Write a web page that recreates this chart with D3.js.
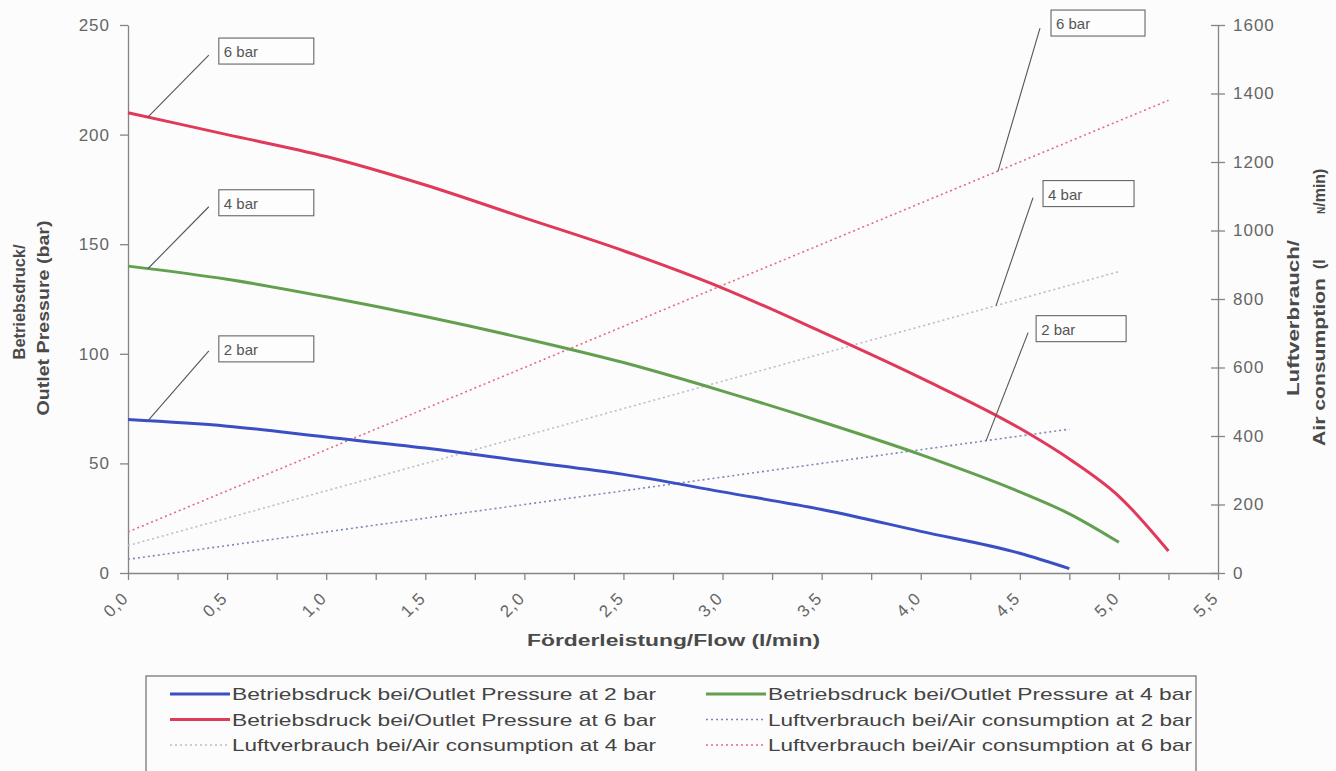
<!DOCTYPE html>
<html>
<head>
<meta charset="utf-8">
<script src="https://cdn.jsdelivr.net/npm/d3@7"></script>
<style>
  body { margin: 0; background: #fcfcfc; }
  svg { font-family: "Liberation Sans", Arial, sans-serif; }
</style>
</head>
<body>
<div id="chart"></div>
<script>
// Förderleistung (l/min) for each curve
var flow2 = [0, 0.5, 1.0, 1.5, 2.0, 2.5, 3.0, 3.5, 4.0, 4.5, 4.75];
var flow4 = [0, 0.5, 1.0, 1.5, 2.0, 2.5, 3.0, 3.5, 4.0, 4.5, 4.75, 5.0];
var flow6 = [0, 0.5, 1.0, 1.5, 2.0, 2.5, 3.0, 3.5, 4.0, 4.5, 4.75, 5.0, 5.25];

// Betriebsdruck / Outlet pressure (bar)
var press2 = [70, 67, 62, 57, 51, 45, 37, 29, 19, 9, 2];
var press4 = [140, 134, 126, 117, 107, 96, 83, 69, 54, 37, 27, 14];
var press6 = [210, 200, 190, 177, 162, 147, 130, 110, 89, 66, 52, 35, 10];

// Luftverbrauch / Air consumption (lN/min)
var air2 = [40, 80, 120, 160, 200, 240, 280, 320, 360, 400, 420];
var air4 = [80, 160, 240, 320, 400, 480, 560, 640, 720, 800, 840, 880];
var air6 = [120, 240, 360, 480, 600, 720, 840, 960, 1080, 1200, 1260, 1320, 1380];

var leftTicks = [0, 50, 100, 150, 200, 250];
var rightTicks = [0, 200, 400, 600, 800, 1000, 1200, 1400, 1600];
var xLabels = [0, 0.5, 1.0, 1.5, 2.0, 2.5, 3.0, 3.5, 4.0, 4.5, 5.0, 5.5];

var legendNames = [
    "Betriebsdruck bei/Outlet Pressure at 2 bar",
    "Betriebsdruck bei/Outlet Pressure at 4 bar",
    "Betriebsdruck bei/Outlet Pressure at 6 bar",
    "Luftverbrauch bei/Air consumption at 2 bar",
    "Luftverbrauch bei/Air consumption at 4 bar",
    "Luftverbrauch bei/Air consumption at 6 bar"
];

var series = [
    {flow: flow2, vals: press2, axis: "L", color: "#3a4fc4", dash: null, width: 3},
    {flow: flow4, vals: press4, axis: "L", color: "#62a04f", dash: null, width: 3},
    {flow: flow6, vals: press6, axis: "L", color: "#e0395a", dash: null, width: 3},
    {flow: flow2, vals: air2, axis: "R", color: "#7d88b4", dash: "2,3", width: 1.6},
    {flow: flow4, vals: air4, axis: "R", color: "#b9bccb", dash: "2,3", width: 1.6},
    {flow: flow6, vals: air6, axis: "R", color: "#e46a86", dash: "2,3", width: 1.6}
];

var width = 1336, height = 771;
var svg = d3.select("#chart").append("svg")
            .attr("width", width)
            .attr("height", height);

var x = d3.scaleLinear().domain([0, 5.5]).range([128, 1218]);
var yL = d3.scaleLinear().domain([0, 250]).range([573, 25]);
var yR = d3.scaleLinear().domain([0, 1600]).range([573, 25]);

var axisColor = "#858585";
var tickText = "#666";
var fmtComma = function(d) { return d3.format(".1f")(d).replace(".", ","); };

// left axis
var gL = svg.append("g").attr("transform", "translate(128,0)")
    .call(d3.axisLeft(yL).tickValues(leftTicks).tickSize(8).tickSizeOuter(0).tickPadding(10));
// right axis (ticks cross the axis)
var gR = svg.append("g").attr("transform", "translate(1218,0)")
    .call(d3.axisRight(yR).tickValues(rightTicks).tickFormat(d3.format("d"))
          .tickSize(7).tickSizeOuter(0).tickPadding(8));
gR.selectAll(".tick line").attr("x1", -7);
// bottom axis
var gX = svg.append("g").attr("transform", "translate(0,573)")
    .call(d3.axisBottom(x).tickValues(d3.range(0, 5.5001, 0.25)).tickSize(7).tickSizeOuter(0).tickFormat(""));

[gL, gR, gX].forEach(function(g) {
    g.select(".domain").attr("stroke", axisColor).attr("stroke-width", 1.3);
    g.selectAll(".tick line").attr("stroke", axisColor).attr("stroke-width", 1.3);
    g.selectAll(".tick text").attr("fill", tickText)
        .style("font-size", "17px").style("letter-spacing", "1px");
});

svg.append("g").selectAll("text")
    .data(xLabels)
    .enter().append("text")
    .attr("transform", function(d) { return "translate(" + (x(d) - 7) + ",591) rotate(-45)"; })
    .attr("text-anchor", "end")
    .attr("dy", "0.7em")
    .attr("fill", tickText)
    .style("font-size", "17px")
    .style("letter-spacing", "1px")
    .text(fmtComma);

// axis titles
var titleColor = "#4a4a4a";
svg.append("text")
    .attr("x", 527).attr("y", 646)
    .attr("textLength", 293).attr("lengthAdjust", "spacingAndGlyphs")
    .attr("fill", titleColor).style("font-size", "16px").style("font-weight", "bold")
    .text("Förderleistung/Flow (l/min)");

svg.append("text")
    .attr("transform", "translate(25,302) rotate(-90)")
    .attr("text-anchor", "middle")
    .attr("textLength", 115).attr("lengthAdjust", "spacingAndGlyphs")
    .attr("fill", titleColor).style("font-size", "16px").style("font-weight", "bold")
    .text("Betriebsdruck/");
svg.append("text")
    .attr("transform", "translate(49,318) rotate(-90)")
    .attr("text-anchor", "middle")
    .attr("textLength", 195).attr("lengthAdjust", "spacingAndGlyphs")
    .attr("fill", titleColor).style("font-size", "16px").style("font-weight", "bold")
    .text("Outlet Pressure (bar)");

svg.append("text")
    .attr("transform", "translate(1299,396) rotate(-90)")
    .attr("textLength", 156).attr("lengthAdjust", "spacingAndGlyphs")
    .attr("fill", titleColor).style("font-size", "16px").style("font-weight", "bold")
    .text("Luftverbrauch/");
svg.append("text")
    .attr("transform", "translate(1325,446) rotate(-90)")
    .attr("textLength", 168).attr("lengthAdjust", "spacingAndGlyphs")
    .attr("fill", titleColor).style("font-size", "16px").style("font-weight", "bold")
    .text("Air consumption");
svg.append("text")
    .attr("transform", "translate(1325,269) rotate(-90)")
    .attr("fill", titleColor).style("font-size", "16px").style("font-weight", "bold")
    .text("(l");
var nmin = svg.append("text")
    .attr("transform", "translate(1325,214) rotate(-90)")
    .attr("fill", titleColor).style("font-size", "16px").style("font-weight", "bold");
nmin.append("tspan").style("font-size", "10px").text("N");
nmin.append("tspan").text("/min)");

// curves
var line = function(s) {
    var yy = s.axis === "L" ? yL : yR;
    return d3.line()
        .x(function(d, i) { return x(s.flow[i]); })
        .y(function(d) { return yy(d); })
        .curve(d3.curveMonotoneX)(s.vals);
};

// air consumption drawn first so pressure curves sit on top
[3, 4, 5, 0, 1, 2].forEach(function(k) {
    var s = series[k];
    svg.append("path")
        .attr("d", line(s))
        .attr("fill", "none")
        .attr("stroke", s.color)
        .attr("stroke-width", s.width)
        .attr("stroke-dasharray", s.dash)
        .attr("stroke-linejoin", "round");
});

// "x bar" callouts: series index, flow where the leader touches, leader vector, box offset
var callouts = [
    {s: 2, f: 0.1, dx: 61, dy: -62, bx: 10, by: -17, bw: 95, text: "6 bar"},
    {s: 1, f: 0.1, dx: 61, dy: -62, bx: 10, by: -17, bw: 95, text: "4 bar"},
    {s: 0, f: 0.1, dx: 61, dy: -70, bx: 10, by: -15, bw: 95, text: "2 bar"},
    {s: 5, f: 4.39, dx: 42, dy: -143, bx: 11, by: -18, bw: 94, text: "6 bar"},
    {s: 4, f: 4.38, dx: 37, dy: -108, bx: 10, by: -17, bw: 91, text: "4 bar"},
    {s: 3, f: 4.33, dx: 42, dy: -108, bx: 8, by: -17, bw: 90, text: "2 bar"}
];

callouts.forEach(function(c) {
    var s = series[c.s];
    var yy = s.axis === "L" ? yL : yR;
    // value on the curve at flow c.f (between the read points)
    var v = d3.scaleLinear().domain(s.flow).range(s.vals)(c.f);
    var px = x(c.f), py = yy(v);
    var tx = px + c.dx, ty = py + c.dy;
    svg.append("line")
        .attr("x1", px).attr("y1", py).attr("x2", tx).attr("y2", ty)
        .attr("stroke", "#555").attr("stroke-width", 1.1);
    svg.append("rect")
        .attr("x", tx + c.bx).attr("y", ty + c.by)
        .attr("width", c.bw).attr("height", 26)
        .attr("fill", "#fdfdfd").attr("stroke", "#666").attr("stroke-width", 1.1);
    svg.append("text")
        .attr("x", tx + c.bx + 5).attr("y", ty + c.by + 19)
        .attr("fill", "#555").style("font-size", "15px")
        .text(c.text);
});

// legend
var lg = svg.append("g");
lg.append("rect")
    .attr("x", 146).attr("y", 676).attr("width", 1050).attr("height", 110)
    .attr("fill", "none").attr("stroke", "#777").attr("stroke-width", 1.3);

[0, 1, 2, 3, 4, 5].forEach(function(k, i) {
    var s = series[k];
    var col = i % 2, row = Math.floor(i / 2);
    var lx = col === 0 ? 170 : 706;
    var ty = 694 + row * 25.5;
    lg.append("line")
        .attr("x1", lx).attr("x2", lx + 60)
        .attr("y1", ty).attr("y2", ty)
        .attr("stroke", s.color)
        .attr("stroke-width", s.dash ? 1.6 : 3)
        .attr("stroke-dasharray", s.dash);
    lg.append("text")
        .attr("x", lx + 62).attr("y", ty + 6)
        .attr("textLength", 424).attr("lengthAdjust", "spacingAndGlyphs")
        .attr("fill", "#444").style("font-size", "17px")
        .text(legendNames[k]);
});
</script>
</body>
</html>
